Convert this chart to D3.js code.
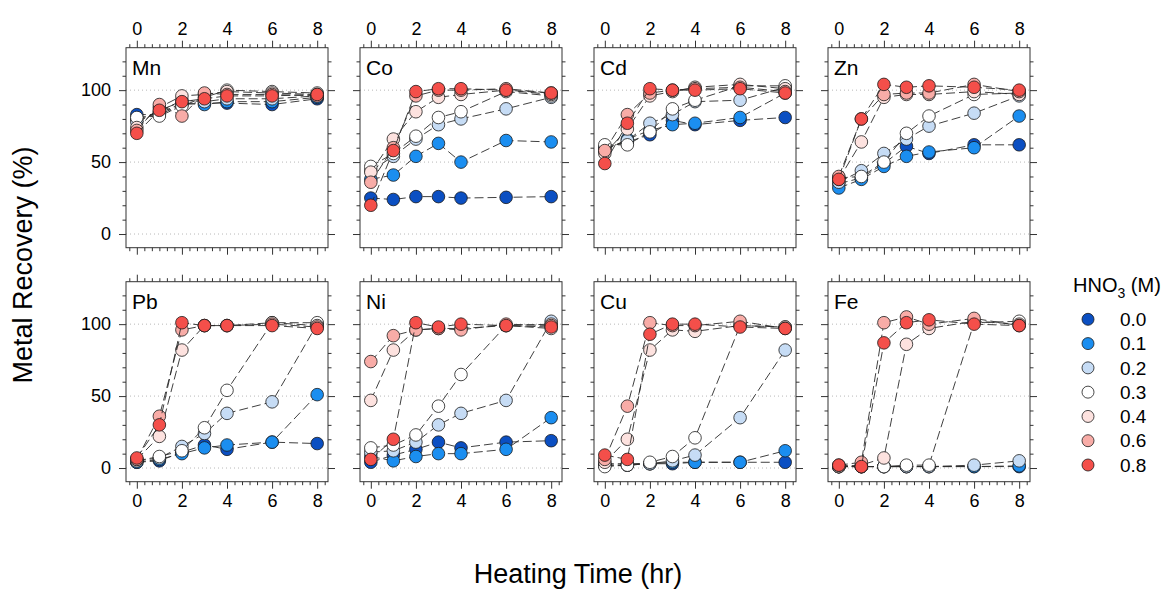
<!DOCTYPE html>
<html>
<head>
<meta charset="utf-8">
<script src="https://cdn.jsdelivr.net/npm/d3@7"></script>
<style>
  html, body { margin: 0; padding: 0; background: #fff; }
  svg { display: block; font-family: "Liberation Sans", Arial, sans-serif; }
</style>
</head>
<body>
<svg id="chart" width="1162" height="589"></svg>
<script>
// Heating times (hr) and HNO3 concentrations (M)
const times = [0, 1, 2, 3, 4, 6, 8];
const concentrations = ["0.0", "0.1", "0.2", "0.3", "0.4", "0.6", "0.8"];
const seriesColors = ["#0b4fc2", "#1b8ef0", "#c6dcf5", "#ffffff", "#fde2df", "#f8aca7", "#f44f4a"];
const metals = ["Mn", "Co", "Cd", "Zn", "Pb", "Ni", "Cu", "Fe"];
const xTickLabels = [0, 2, 4, 6, 8];
const yTickLabels = [0, 50, 100];

// Metal recovery (%) — one row per HNO3 concentration, one column per heating time
const recoveryMn = [
  [83, 83, 90, 91, 91, 90, 94],
  [80, 84, 91, 90, 92, 92, 95],
  [78, 85, 93, 92, 94, 94, 96],
  [81, 82, 89, 95, 100, 99, 98],
  [74, 88, 96, 97, 99, 98, 97],
  [72, 90, 82, 98, 97, 97, 96],
  [70, 86, 92, 94, 96, 96, 97]
];
const recoveryCo = [
  [25, 24, 26, 26, 25, 25.5, 26],
  [38, 41, 54, 63, 50, 65, 64],
  [44, 54, 66, 76, 80, 87, 95],
  [47, 56, 68, 81, 85, 99, 96],
  [43, 66, 85, 95, 97, 100, 97],
  [36, 60, 96, 100, 100, 101, 98],
  [20, 58, 99, 101, 101, 100, 98]
];
const recoveryCd = [
  [60, 64, 69, 79, 76, 79, 81],
  [58, 66, 72, 76, 77, 81, 98],
  [59, 65, 77, 83, 92, 93, 102],
  [62, 62, 71, 87, 93, 103, 103],
  [56, 73, 96, 99, 102, 104, 101],
  [58, 83, 98, 100, 101, 102, 99],
  [49, 77, 101, 100, 100, 101, 98]
];
const recoveryZn = [
  [35, 39, 49, 61, 56, 62, 62],
  [32, 38, 47, 54, 57, 60, 82],
  [36, 44, 56, 66, 75, 84, 96],
  [39, 40, 50, 70, 82, 97, 98],
  [38, 64, 95, 97, 97, 99, 97],
  [40, 80, 97, 98, 98, 104, 99],
  [38, 80, 104, 102, 103, 102, 100]
];
const recoveryPb = [
  [4, 5, 11, 16, 13, 18, 17],
  [4, 6, 10, 14, 16, 18, 51],
  [5, 7, 15, 24, 38, 46, 100],
  [5, 8, 12, 28, 54, 101, 101],
  [6, 22, 82, 99, 99, 101, 99],
  [6, 36, 96, 99, 99, 100, 98],
  [7, 30, 101, 99, 99, 99, 97]
];
const recoveryNi = [
  [4, 9, 13, 18, 14, 18, 19],
  [8, 5, 8, 10, 10, 13, 35],
  [11, 12, 18, 30, 38, 47, 102],
  [14, 16, 23, 43, 65, 99, 97],
  [47, 82, 96, 97, 97, 99, 100],
  [74, 92, 96, 97, 96, 100, 99],
  [6, 20, 101, 98, 100, 99, 98]
];
const recoveryCu = [
  [2, 2, 3, 3, 4, 4, 4],
  [3, 3, 3, 4, 4, 4, 12],
  [2, 2, 3, 5, 9, 35, 82],
  [1, 2, 4, 8, 21, 99, 98],
  [4, 20, 82, 96, 95, 99, 98],
  [6, 43, 101, 99, 99, 102, 97],
  [9, 6, 93, 100, 100, 98, 97]
];
const recoveryFe = [
  [1, 1, 1, 1, 1, 1, 1],
  [1, 1, 1, 1, 1, 1, 1.5],
  [1, 1, 1, 1, 1, 2, 5],
  [1, 1, 1, 2, 2, 101, 102],
  [1, 2, 7, 86, 97, 102, 100],
  [2, 4, 101, 105, 100, 104, 99],
  [2, 1, 87, 101, 103, 100, 99]
];
const recoveryByMetal = [recoveryMn, recoveryCo, recoveryCd, recoveryZn,
                         recoveryPb, recoveryNi, recoveryCu, recoveryFe];

// Layout of the 4 x 2 panel grid
const nCols = 4;
const panelW = 202, panelH = 200;
const left0 = 126, top0 = 47.7;
const pitchX = 234, pitchY = 234;
const axisColor = "#333";

const svg = d3.select("#chart");

const x = d3.scaleLinear().domain([-0.48, 8.48]).range([0, panelW]);
const y = d3.scaleLinear().domain([-9.5, 129.5]).range([panelH, 0]);

const xMinor = d3.range(-1, 26).map(k => k / 3).filter(v => v > -0.48 && v < 8.48 && Math.abs(v - Math.round(v / 2) * 2) > 1e-6);
const yMinor = d3.range(0, 130, 10).filter(v => v % 50 !== 0);

const line = d3.line().x((d, i) => x(times[i])).y(d => y(d));

function styleAxis(g) {
  g.select(".domain").remove();
  g.selectAll(".tick line").attr("stroke", axisColor).attr("stroke-width", 1);
  g.selectAll(".tick text").attr("fill", "#000").style("font-size", "18px")
    .style("font-family", "'Liberation Sans', Arial, sans-serif");
}

metals.forEach((metal, m) => {
  const col = m % nCols, row = Math.floor(m / nCols);
  const px = left0 + col * pitchX, py = top0 + row * pitchY;
  const g = svg.append("g").attr("transform", `translate(${px},${py})`);

  // dotted reference lines
  g.selectAll("line.grid").data(yTickLabels).join("line")
    .attr("class", "grid")
    .attr("x1", 0).attr("x2", panelW)
    .attr("y1", d => y(d)).attr("y2", d => y(d))
    .attr("stroke", "#b8b8b8").attr("stroke-width", 1)
    .attr("stroke-dasharray", "1,3");

  // axes on all four sides: major ticks with labels on outer edges, minor ticks everywhere
  const topAx = g.append("g")
    .call(d3.axisTop(x).tickValues(xTickLabels).tickSize(7).tickPadding(6)
      .tickFormat(row === 0 ? d3.format("d") : () => ""));
  styleAxis(topAx);
  styleAxis(g.append("g").call(d3.axisTop(x).tickValues(xMinor).tickSize(3.5).tickFormat(() => "")));

  const botAx = g.append("g").attr("transform", `translate(0,${panelH})`)
    .call(d3.axisBottom(x).tickValues(xTickLabels).tickSize(7).tickPadding(6)
      .tickFormat(row === 1 ? d3.format("d") : () => ""));
  styleAxis(botAx);
  styleAxis(g.append("g").attr("transform", `translate(0,${panelH})`)
    .call(d3.axisBottom(x).tickValues(xMinor).tickSize(3.5).tickFormat(() => "")));

  const leftAx = g.append("g")
    .call(d3.axisLeft(y).tickValues(yTickLabels).tickSize(7).tickPadding(8)
      .tickFormat(col === 0 ? d3.format("d") : () => ""));
  styleAxis(leftAx);
  styleAxis(g.append("g").call(d3.axisLeft(y).tickValues(yMinor).tickSize(3.5).tickFormat(() => "")));

  styleAxis(g.append("g").attr("transform", `translate(${panelW},0)`)
    .call(d3.axisRight(y).tickValues(yTickLabels).tickSize(7).tickFormat(() => "")));
  styleAxis(g.append("g").attr("transform", `translate(${panelW},0)`)
    .call(d3.axisRight(y).tickValues(yMinor).tickSize(3.5).tickFormat(() => "")));

  // panel frame
  g.append("rect").attr("width", panelW).attr("height", panelH)
    .attr("fill", "none").attr("stroke", axisColor).attr("stroke-width", 1);

  // metal name
  g.append("text").attr("x", 6).attr("y", 27.5)
    .style("font-size", "21px").attr("fill", "#000").text(metal);

  // one dashed line with circles per HNO3 concentration
  recoveryByMetal[m].forEach((vals, s) => {
    g.append("path").datum(vals)
      .attr("d", line).attr("fill", "none")
      .attr("stroke", "#2a2a2a").attr("stroke-width", 0.9)
      .attr("stroke-dasharray", "9,4");
    g.selectAll(null).data(vals).join("circle")
      .attr("cx", (d, i) => x(times[i])).attr("cy", d => y(d))
      .attr("r", 6.3)
      .attr("fill", seriesColors[s])
      .attr("stroke", "#1a1a1a").attr("stroke-width", 0.8);
  });
});

// axis titles
svg.append("text")
  .attr("transform", `translate(32,265) rotate(-90)`)
  .attr("text-anchor", "middle")
  .style("font-size", "27px").attr("fill", "#000")
  .text("Metal Recovery (%)");

svg.append("text")
  .attr("x", 578).attr("y", 583)
  .attr("text-anchor", "middle")
  .style("font-size", "27px").attr("fill", "#000")
  .text("Heating Time (hr)");

// legend
const legend = svg.append("g");
const legendTitle = legend.append("text").attr("x", 1073).attr("y", 291.7)
  .style("font-size", "20px").attr("fill", "#000");
legendTitle.append("tspan").text("HNO");
legendTitle.append("tspan").attr("dy", 6).style("font-size", "14px").text("3");
legendTitle.append("tspan").attr("dy", -6).text(" (M)");

const legendY = d3.scalePoint().domain(concentrations).range([319.3, 465]);
const items = legend.selectAll("g.item").data(concentrations).join("g")
  .attr("class", "item")
  .attr("transform", d => `translate(0,${legendY(d)})`);
items.append("circle").attr("cx", 1088).attr("cy", 0).attr("r", 6)
  .attr("fill", (d, i) => seriesColors[i])
  .attr("stroke", "#1a1a1a").attr("stroke-width", 0.8);
items.append("text").attr("x", 1120).attr("y", 0).attr("dy", "0.35em")
  .style("font-size", "19px").attr("fill", "#000").text(d => d);
</script>
</body>
</html>
